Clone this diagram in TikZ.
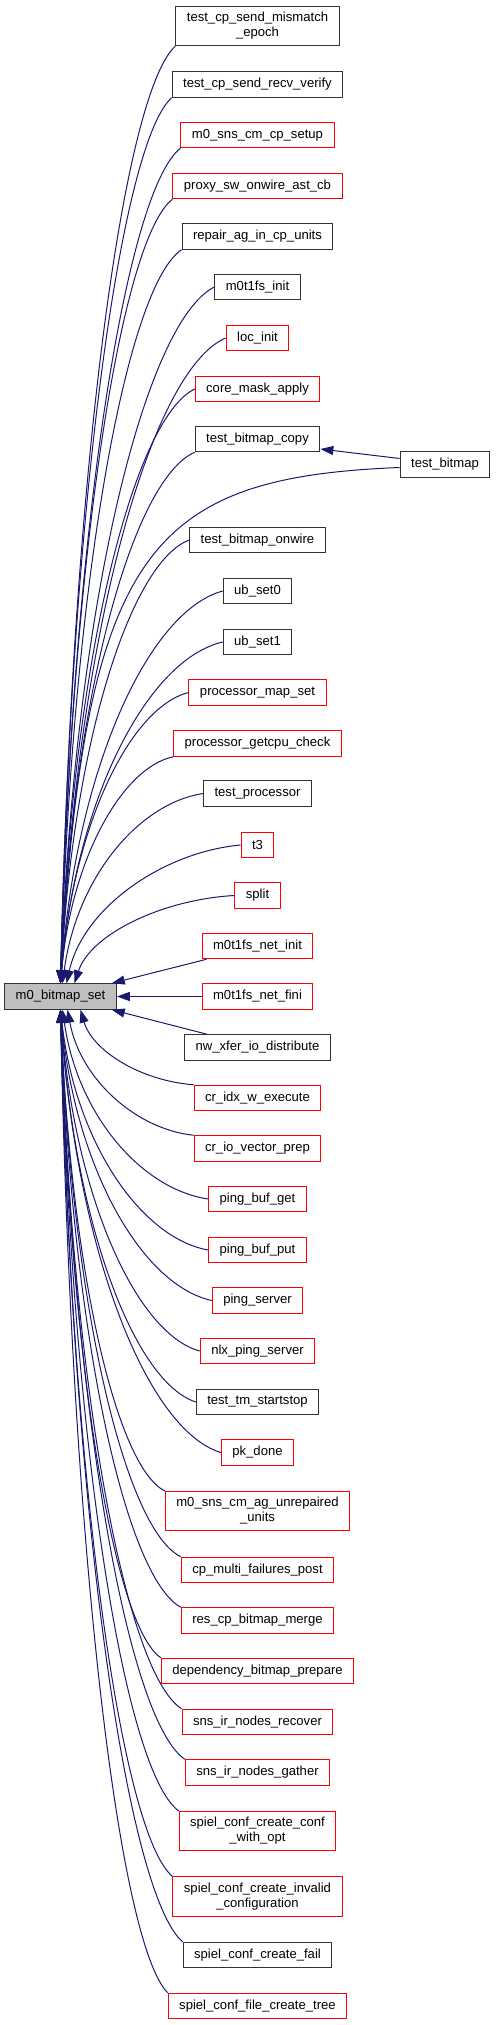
\documentclass[tikz,border=0pt]{standalone}
\usepackage{fontspec}
\setmainfont{Liberation Sans}
\usepackage{tikz}
\usetikzlibrary{arrows.meta}

\definecolor{midnight}{RGB}{25,25,112}
\definecolor{boxgray}{RGB}{191,191,191}

\begin{document}
\begin{tikzpicture}[x=1pt, y=1pt]

\tikzset{fn/.style = {shape=rectangle, draw=black!80, line width=1pt, minimum height=25.5pt,
  inner xsep=11pt, inner ysep=6pt, align=center, font=\fontsize{13.1}{15}\selectfont}}
\tikzset{trunc/.style = {fn, draw=red}}
\tikzset{cur/.style = {fn, fill=boxgray}}
\tikzset{calledge/.style = {->, >={Triangle[length=13pt,width=9pt]}, draw=midnight, line width=1pt}}

\useasboundingbox (0,0) rectangle (496,-2025);

% vertices
\node[cur] (m0) at (60.5,-996.5) {m0\_bitmap\_set};
\node[fn] (epoch) at (257.5,-26) {test\_cp\_send\_mismatch\\\_epoch};
\node[fn] (verify) at (257.5,-84.5) {test\_cp\_send\_recv\_verify};
\node[trunc] (cpsetup) at (257.5,-135) {m0\_sns\_cm\_cp\_setup};
\node[trunc] (astcb) at (257.5,-186) {proxy\_sw\_onwire\_ast\_cb};
\node[fn] (repair) at (257.5,-236.5) {repair\_ag\_in\_cp\_units};
\node[fn] (fsinit) at (257.5,-287) {m0t1fs\_init};
\node[trunc] (locinit) at (257.5,-338) {loc\_init};
\node[trunc] (mask) at (257.5,-389) {core\_mask\_apply};
\node[fn] (copy) at (257.5,-439) {test\_bitmap\_copy};
\node[fn] (tb) at (445,-464.5) {test\_bitmap};
\node[fn] (onwire) at (257.5,-540) {test\_bitmap\_onwire};
\node[fn] (set0) at (257.5,-591) {ub\_set0};
\node[fn] (set1) at (257.5,-642) {ub\_set1};
\node[trunc] (mapset) at (257.5,-692.5) {processor\_map\_set};
\node[trunc] (getcpu) at (257.5,-743.5) {processor\_getcpu\_check};
\node[fn] (tproc) at (257.5,-793.5) {test\_processor};
\node[trunc] (t3) at (257.5,-845) {t3};
\node[trunc] (split) at (257.5,-895.5) {split};
\node[trunc] (netinit) at (257.5,-946) {m0t1fs\_net\_init};
\node[trunc] (netfini) at (257.5,-996.5) {m0t1fs\_net\_fini};
\node[fn] (nwx) at (257.5,-1047.5) {nw\_xfer\_io\_distribute};
\node[trunc] (idxw) at (257.5,-1098) {cr\_idx\_w\_execute};
\node[trunc] (iovec) at (257.5,-1148.5) {cr\_io\_vector\_prep};
\node[trunc] (bufget) at (257.5,-1199) {ping\_buf\_get};
\node[trunc] (bufput) at (257.5,-1250) {ping\_buf\_put};
\node[trunc] (pserver) at (257.5,-1300.5) {ping\_server};
\node[trunc] (nlx) at (257.5,-1351) {nlx\_ping\_server};
\node[fn] (tmss) at (257.5,-1402) {test\_tm\_startstop};
\node[trunc] (pkdone) at (257.5,-1452.5) {pk\_done};
\node[trunc] (unrep) at (257.5,-1511) {m0\_sns\_cm\_ag\_unrepaired\\\_units};
\node[trunc] (multi) at (257.5,-1570) {cp\_multi\_failures\_post};
\node[trunc] (merge) at (257.5,-1620.5) {res\_cp\_bitmap\_merge};
\node[trunc] (dep) at (257.5,-1671) {dependency\_bitmap\_prepare};
\node[trunc] (recover) at (257.5,-1722) {sns\_ir\_nodes\_recover};
\node[trunc] (gather) at (257.5,-1772.5) {sns\_ir\_nodes\_gather};
\node[trunc] (withopt) at (257.5,-1831) {spiel\_conf\_create\_conf\\\_with\_opt};
\node[trunc] (invalid) at (257.5,-1896.5) {spiel\_conf\_create\_invalid\\\_configuration};
\node[fn] (cfail) at (257.5,-1955) {spiel\_conf\_create\_fail};
\node[trunc] (ftree) at (257.5,-2006) {spiel\_conf\_file\_create\_tree};

% edges
\draw[calledge] (epoch.south west) .. controls +(-52,-47) and +(12,516) .. (m0.north);
\draw[calledge] (verify.south west) .. controls +(-50,-44) and +(11,487) .. (m0.north);
\draw[calledge] (cpsetup.south west) .. controls +(-54,-42) and +(12,460) .. (m0.north);
\draw[calledge] (astcb.south west) .. controls +(-51,-39) and +(11,432) .. (m0.north);
\draw[calledge] (repair.south west) .. controls +(-55,-37) and +(12,404) .. (m0.north);
\draw[calledge] (fsinit.west) .. controls +(-69,-35) and +(15,383) .. (m0.north);
\draw[calledge] (locinit.west) .. controls +(-74,-32) and +(17,355) .. (m0.north);
\draw[calledge] (mask.west) .. controls +(-61,-30) and +(13,327) .. (m0.north);
\draw[calledge] (copy.south west) .. controls +(-61,-27) and +(13,293) .. (m0.north);
\draw[calledge] ([yshift=6pt]tb.west) -- ([yshift=-10pt]copy.east);
\draw[calledge] ([yshift=-3pt]tb.west) .. controls +(-250,-10) and +(25,434) .. (m0.north);
\draw[calledge] (onwire.west) .. controls +(-58,-22) and +(13,244) .. (m0.north);
\draw[calledge] (set0.west) .. controls +(-74,-20) and +(16,216) .. (m0.north);
\draw[calledge] (set1.west) .. controls +(-74,-17) and +(16,188) .. (m0.north);
\draw[calledge] (mapset.west) .. controls +(-58,-15) and +(13,160) .. (m0.north);
\draw[calledge] (getcpu.south west) .. controls +(-51,-11) and +(11,125) .. (m0.north);
\draw[calledge] (tproc.west) .. controls +(-65,-10) and +(14,105) .. ([xshift=2pt]m0.north);
\draw[calledge] (t3.west) .. controls +(-77,-7) and +(17,76) .. ([xshift=6pt]m0.north);
\draw[calledge] (split.west) .. controls +(-72,-4) and +(16,49) .. ([xshift=14pt]m0.north);
\draw[calledge] ([xshift=5pt]netinit.south west) -- ([xshift=-5pt]m0.north east);
\draw[calledge] (netfini.west) -- (m0.east);
\draw[calledge] ([xshift=23pt]nwx.north west) -- ([xshift=-5pt]m0.south east);
\draw[calledge] (idxw.north west) .. controls +(-53,4) and +(12,-41) .. ([xshift=20pt]m0.south);
\draw[calledge] (iovec.north west) .. controls +(-57,6) and +(13,-70) .. ([xshift=7pt]m0.south);
\draw[calledge] (bufget.west) .. controls +(-67,10) and +(15,-105) .. ([xshift=2pt]m0.south);
\draw[calledge] (bufput.west) .. controls +(-67,12) and +(15,-133) .. (m0.south);
\draw[calledge] (pserver.west) .. controls +(-69,15) and +(15,-160) .. (m0.south);
\draw[calledge] (nlx.west) .. controls +(-63,17) and +(14,-188) .. (m0.south);
\draw[calledge] (tmss.west) .. controls +(-61,20) and +(14,-216) .. (m0.south);
\draw[calledge] (pkdone.west) .. controls +(-73,22) and +(16,-244) .. (m0.south);
\draw[calledge] (unrep.north west) .. controls +(-48,24) and +(11,-265) .. (m0.south);
\draw[calledge] (multi.north west) .. controls +(-55,27) and +(12,-301) .. (m0.south);
\draw[calledge] (merge.north west) .. controls +(-55,30) and +(12,-329) .. (m0.south);
\draw[calledge] (dep.north west) .. controls +(-47,32) and +(10,-357) .. (m0.south);
\draw[calledge] (recover.north west) .. controls +(-55,35) and +(12,-385) .. (m0.south);
\draw[calledge] (gather.north west) .. controls +(-56,38) and +(13,-413) .. (m0.south);
\draw[calledge] (withopt.north west) .. controls +(-54,40) and +(12,-441) .. (m0.south);
\draw[calledge] (invalid.north west) .. controls +(-51,43) and +(11,-477) .. (m0.south);
\draw[calledge] (cfail.north west) .. controls +(-55,47) and +(12,-513) .. (m0.south);
\draw[calledge] (ftree.north west) .. controls +(-49,49) and +(11,-541) .. (m0.south);
\end{tikzpicture}
\end{document}
